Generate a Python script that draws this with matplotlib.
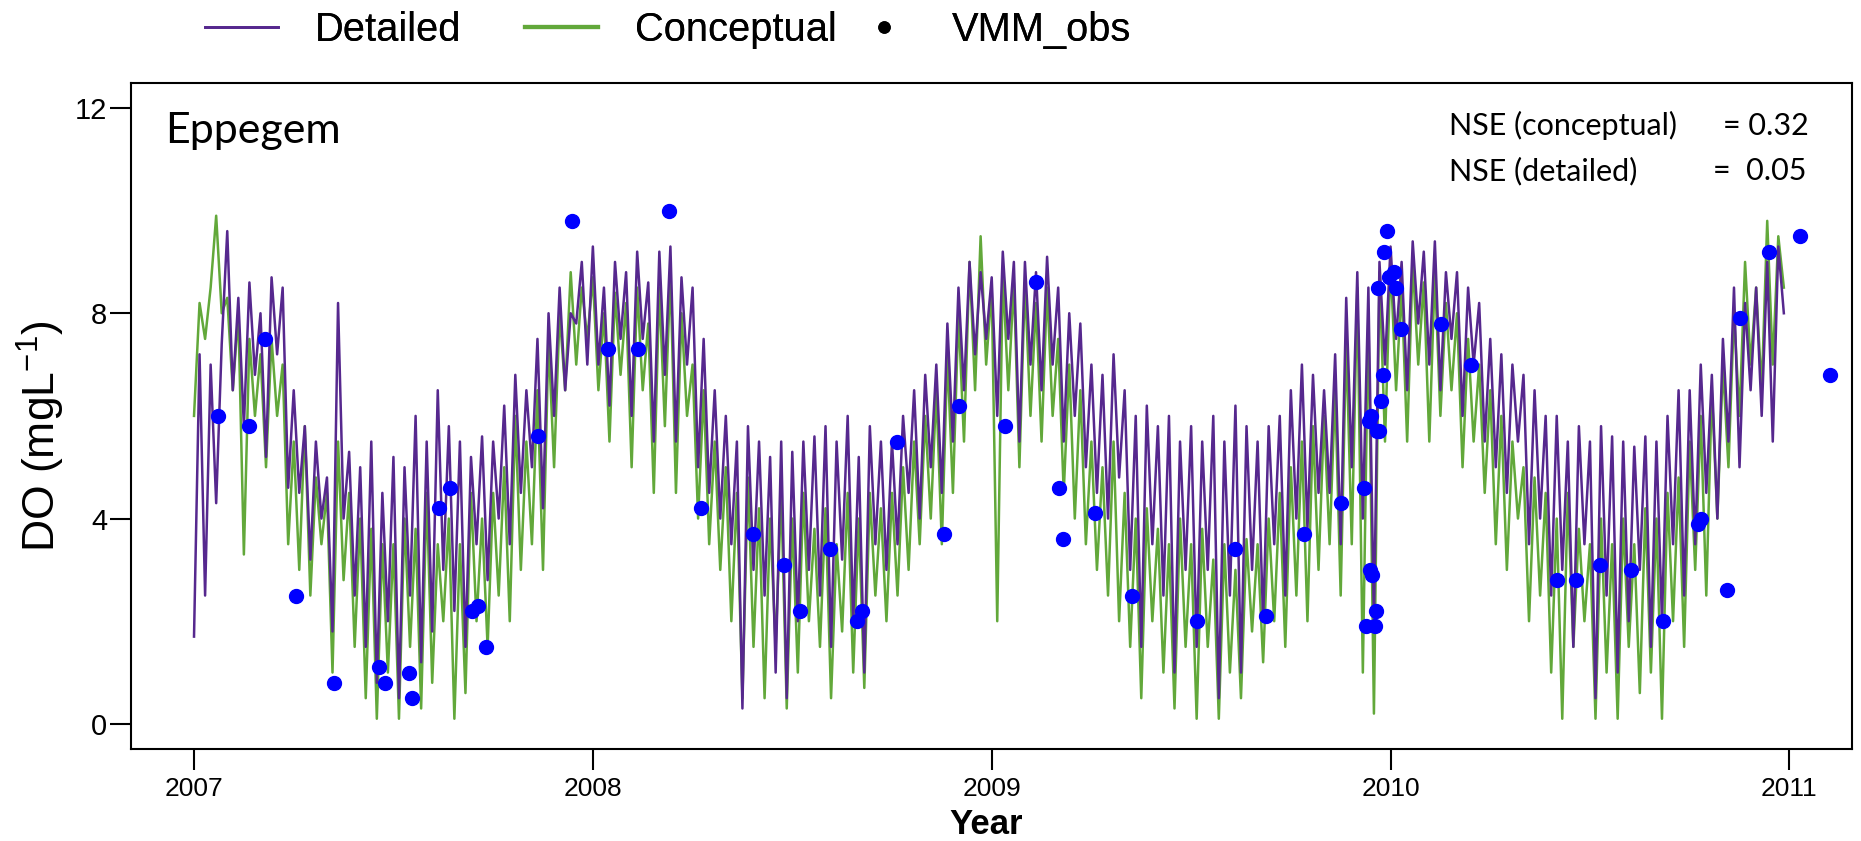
import numpy as np
import matplotlib.pyplot as plt
from matplotlib.lines import Line2D

# --------------------------------------------------
# DATA (~5-day steps, 72 per year)
# --------------------------------------------------

detailed = [
    # 2007
    1.7, 7.2, 2.5, 7.0, 4.3, 7.4, 9.6, 6.5, 8.3, 5.8, 8.6, 6.8,
    8.0, 5.2, 8.7, 7.2, 8.5, 4.6, 6.5, 4.5, 5.8, 3.2, 5.5, 4.0,
    4.8, 1.8, 8.2, 4.0, 5.3, 2.5, 5.0, 1.5, 5.5, 0.8, 4.5, 2.0,
    5.2, 0.5, 5.0, 2.5, 6.0, 1.2, 5.5, 1.8, 6.5, 3.0, 5.8, 2.2,
    5.5, 1.5, 5.2, 3.5, 5.6, 2.8, 5.5, 4.0, 6.2, 3.5, 6.8, 4.5,
    6.5, 5.0, 7.5, 4.2, 8.0, 6.0, 8.5, 6.5, 8.0, 7.8, 9.0, 7.0,
    # 2008
    9.3, 7.0, 8.5, 6.2, 9.0, 7.5, 8.8, 6.0, 9.2, 7.5, 8.6, 5.5,
    9.2, 6.8, 9.3, 5.5, 8.7, 7.0, 8.5, 5.0, 7.5, 4.5, 6.5, 4.0,
    6.0, 3.5, 5.5, 0.3, 5.8, 3.0, 5.5, 2.5, 5.2, 1.0, 5.5, 0.5,
    5.3, 2.0, 5.5, 3.0, 5.6, 2.5, 5.8, 1.5, 5.5, 3.2, 6.0, 2.0,
    5.2, 1.0, 5.8, 3.5, 5.5, 3.0, 5.5, 3.5, 6.0, 4.5, 6.5, 4.0,
    6.8, 5.0, 7.0, 4.5, 7.8, 5.5, 8.5, 6.5, 9.0, 7.2, 8.8, 7.5,
    # 2009
    8.7, 6.0, 9.2, 7.5, 9.0, 5.5, 9.0, 7.0, 8.8, 6.5, 9.1, 7.0,
    8.5, 5.5, 8.0, 6.0, 7.8, 5.0, 7.0, 4.5, 6.8, 4.0, 7.2, 4.8,
    6.5, 3.0, 6.0, 1.5, 6.2, 3.5, 5.8, 2.5, 6.0, 1.0, 5.5, 3.0,
    5.8, 1.5, 5.5, 3.0, 6.0, 0.5, 5.5, 2.5, 6.2, 1.0, 5.8, 3.0,
    5.5, 2.0, 5.8, 3.5, 6.0, 2.5, 6.5, 4.0, 7.0, 3.8, 6.8, 4.5,
    6.5, 4.5, 7.2, 3.5, 8.3, 5.0, 8.8, 4.0, 8.5, 2.0, 9.0, 7.0,
    # 2010
    9.3, 7.5, 9.0, 6.5, 9.4, 7.8, 9.2, 7.0, 9.4, 6.5, 8.8, 7.5,
    8.8, 6.0, 8.5, 7.0, 8.2, 5.5, 7.5, 5.0, 7.2, 4.5, 7.0, 5.5,
    6.8, 3.5, 6.5, 4.0, 6.0, 2.5, 6.0, 3.0, 5.5, 1.5, 5.8, 3.5,
    5.5, 0.5, 5.8, 2.5, 5.6, 1.0, 5.5, 2.0, 5.4, 3.0, 5.6, 1.5,
    5.5, 2.0, 6.0, 3.5, 6.5, 2.5, 6.5, 3.5, 7.0, 4.5, 6.8, 4.0,
    7.5, 5.5, 8.5, 5.0, 8.2, 6.5, 8.5, 6.0, 9.0, 5.5, 9.3, 8.0,
]

conceptual = [
    # 2007
    6.0, 8.2, 7.5, 8.5, 9.9, 8.0, 8.3, 6.5, 8.0, 3.3, 7.5, 6.0,
    7.2, 5.0, 7.5, 6.0, 7.0, 3.5, 5.5, 3.0, 5.8, 2.5, 4.8, 3.5,
    4.5, 1.0, 5.5, 2.8, 4.5, 1.5, 4.0, 0.5, 3.8, 0.1, 3.5, 1.0,
    3.5, 0.1, 4.0, 1.5, 3.8, 0.3, 4.5, 0.8, 3.5, 2.0, 4.0, 0.1,
    3.5, 0.6, 4.5, 2.0, 4.0, 1.5, 4.5, 2.5, 5.0, 2.0, 6.0, 3.0,
    5.5, 3.5, 6.5, 3.0, 7.5, 5.0, 8.0, 6.5, 8.8, 7.0, 8.5, 7.5,
    # 2008
    8.7, 6.5, 8.0, 5.5, 8.4, 6.8, 8.2, 5.0, 8.5, 6.5, 7.8, 4.5,
    8.5, 5.8, 8.8, 4.5, 8.0, 6.0, 7.0, 4.0, 6.5, 3.5, 5.5, 3.0,
    5.0, 2.0, 4.5, 0.5, 4.8, 1.5, 4.2, 0.5, 4.0, 1.5, 4.5, 0.3,
    4.0, 1.0, 4.5, 2.0, 3.8, 1.5, 4.2, 0.5, 3.5, 1.8, 4.5, 1.0,
    4.0, 0.7, 4.5, 2.5, 4.2, 2.0, 4.5, 2.5, 5.0, 3.0, 5.5, 3.5,
    6.0, 4.0, 6.5, 3.5, 7.2, 4.5, 8.0, 5.5, 9.0, 6.5, 9.5, 7.0,
    # 2009
    8.5, 2.0, 8.8, 6.5, 8.6, 5.0, 8.6, 6.0, 8.2, 5.5, 8.5, 6.0,
    7.5, 4.5, 7.0, 4.0, 6.5, 3.5, 5.5, 3.0, 5.0, 2.5, 5.5, 2.0,
    4.5, 1.5, 4.0, 0.5, 4.2, 2.0, 3.8, 1.0, 3.5, 0.3, 4.0, 1.5,
    3.5, 0.1, 3.8, 1.5, 3.2, 0.1, 3.5, 1.0, 3.0, 0.5, 3.6, 1.8,
    3.5, 1.2, 4.0, 2.0, 4.5, 1.5, 5.0, 2.5, 5.5, 2.0, 5.8, 3.0,
    6.0, 3.5, 6.5, 2.5, 7.5, 3.5, 8.5, 1.0, 8.0, 0.2, 8.8, 5.5,
    # 2010
    9.0, 6.5, 8.5, 5.5, 9.0, 7.0, 8.6, 5.5, 8.8, 6.0, 8.2, 6.5,
    8.0, 5.0, 7.5, 5.5, 7.0, 4.5, 6.5, 3.5, 6.0, 3.0, 5.5, 4.0,
    5.0, 2.0, 4.8, 2.5, 4.5, 1.0, 4.0, 0.1, 4.5, 1.5, 3.8, 2.0,
    3.5, 0.1, 4.0, 1.0, 3.5, 0.1, 4.0, 1.5, 3.5, 0.6, 4.2, 1.0,
    4.0, 0.1, 4.5, 2.0, 4.8, 1.5, 5.5, 3.0, 6.0, 2.5, 6.5, 4.0,
    7.0, 5.0, 8.0, 6.0, 9.0, 7.0, 8.5, 6.5, 9.8, 7.0, 9.5, 8.5,
]

obs_year = [
    2007.061, 2007.139, 2007.177, 2007.255, 2007.350, 2007.463, 2007.480,
    2007.540, 2007.546, 2007.615, 2007.642, 2007.698, 2007.713, 2007.731,
    2007.862, 2007.948, 2008.038, 2008.112, 2008.192, 2008.270, 2008.401,
    2008.478, 2008.520, 2008.594, 2008.662, 2008.674, 2008.763, 2008.880,
    2008.918, 2009.034, 2009.111, 2009.168, 2009.180, 2009.258, 2009.353,
    2009.514, 2009.609, 2009.687, 2009.782, 2009.877, 2009.933, 2009.939,
    2009.945, 2009.948, 2009.951, 2009.954, 2009.960, 2009.963, 2009.966,
    2009.969, 2009.972, 2009.975, 2009.981, 2009.984, 2009.990, 2009.996,
    2010.008, 2010.014, 2010.026, 2010.127, 2010.201, 2010.418, 2010.466,
    2010.525, 2010.603, 2010.683, 2010.772, 2010.778, 2010.844, 2010.876,
    2010.948, 2011.026, 2011.101,
]

obs_do = [
    6.0, 5.8, 7.5, 2.5, 0.8, 1.1, 0.8,
    1.0, 0.5, 4.2, 4.6, 2.2, 2.3, 1.5,
    5.6, 9.8, 7.3, 7.3, 10.0, 4.2, 3.7,
    3.1, 2.2, 3.4, 2.0, 2.2, 5.5, 3.7,
    6.2, 5.8, 8.6, 4.6, 3.6, 4.1, 2.5,
    2.0, 3.4, 2.1, 3.7, 4.3, 4.6, 1.9,
    5.9, 3.0, 6.0, 2.9, 1.9, 2.2, 5.7,
    8.5, 5.7, 6.3, 6.8, 9.2, 9.6, 8.7,
    8.8, 8.5, 7.7, 7.8, 7.0, 2.8, 2.8,
    3.1, 3.0, 2.0, 3.9, 4.0, 2.6, 7.9,
    9.2, 9.5, 6.8,
]

year_ticks = [2007, 2008, 2009, 2010, 2011]
do_ticks = [0, 4, 8, 12]

# time axis for the two model series (5-day steps)
t = 2007 + np.arange(len(detailed)) / 72.0

purple = '#56288E'
green = '#62A83A'

plt.rcParams['font.family'] = ['Liberation Sans', 'DejaVu Sans']
plt.rcParams['mathtext.fontset'] = 'custom'
plt.rcParams['mathtext.rm'] = 'Liberation Sans'

# --------------------------------------------------
# FIGURE
# --------------------------------------------------

W, H = 1861, 841
fig = plt.figure(figsize=(W / 100, H / 100), dpi=100)
ax = fig.add_axes([131 / W, 1 - 748.5 / H, (1852 - 131) / W, (748.5 - 83.3) / H])

ax.plot(t, conceptual, color=green, lw=1.8, zorder=2)
ax.plot(t, detailed, color=purple, lw=1.8, zorder=2.5)
ax.plot(obs_year, obs_do, 'o', color='#0000FF', markersize=10, zorder=3)

ax.set_xlim(2006.842, 2011.157)
ax.set_ylim(-0.48, 12.48)
ax.set_xticks(year_ticks)
ax.set_xticklabels([str(y) for y in year_ticks])
ax.set_yticks(do_ticks)
ax.tick_params(axis='both', direction='out', length=15, width=1.5)
ax.tick_params(axis='x', labelsize=19, pad=5.5)
ax.tick_params(axis='y', labelsize=21, pad=2)
for s in ax.spines.values():
    s.set_linewidth(1.5)

# labels
fig.text(986 / W, 1 - 834 / H, 'Year', ha='center', va='baseline',
         fontsize=25, fontweight='bold')
fig.text(41 / W, 1 - 436 / H, 'DO (mgL$^{-1}$)', ha='center', va='center',
         rotation=90, fontsize=32)

# annotations
fig.text(165 / W, 1 - 143 / H, 'Eppegem', ha='left', va='baseline',
         fontsize=31, family='Lato')
fig.text(1449 / W, 1 - 135 / H, 'NSE (conceptual)', ha='left', va='baseline',
         fontsize=22, family='Lato')
fig.text(1723 / W, 1 - 135 / H, '= 0.32', ha='left', va='baseline',
         fontsize=22, family='Lato')
fig.text(1449 / W, 1 - 180 / H, 'NSE (detailed)', ha='left', va='baseline',
         fontsize=22, family='Lato')
fig.text(1713 / W, 1 - 180 / H, '=  0.05', ha='left', va='baseline',
         fontsize=22, family='Lato')

# legend: three horizontal entries, placed one by one
entries = [
    (Line2D([], [], color=purple, lw=2), 'Detailed', 205, 1.83, 0.93),
    (Line2D([], [], color=green, lw=3), 'Conceptual', 525, 1.83, 0.93),
    (Line2D([], [], color='black', marker='o', ls='', markersize=8),
     'VMM_obs', 872, 0.6, 1.4),
]
for handle, label, x0, hl, pad in entries:
    leg = fig.legend([handle], [label], loc='center left',
                     bbox_to_anchor=(x0 / W, 1 - 30 / H), frameon=False,
                     fontsize=28.7, handlelength=hl, handletextpad=pad,
                     borderpad=0, borderaxespad=0)
    fig.add_artist(leg)

fig.savefig('out.png', dpi=100)
